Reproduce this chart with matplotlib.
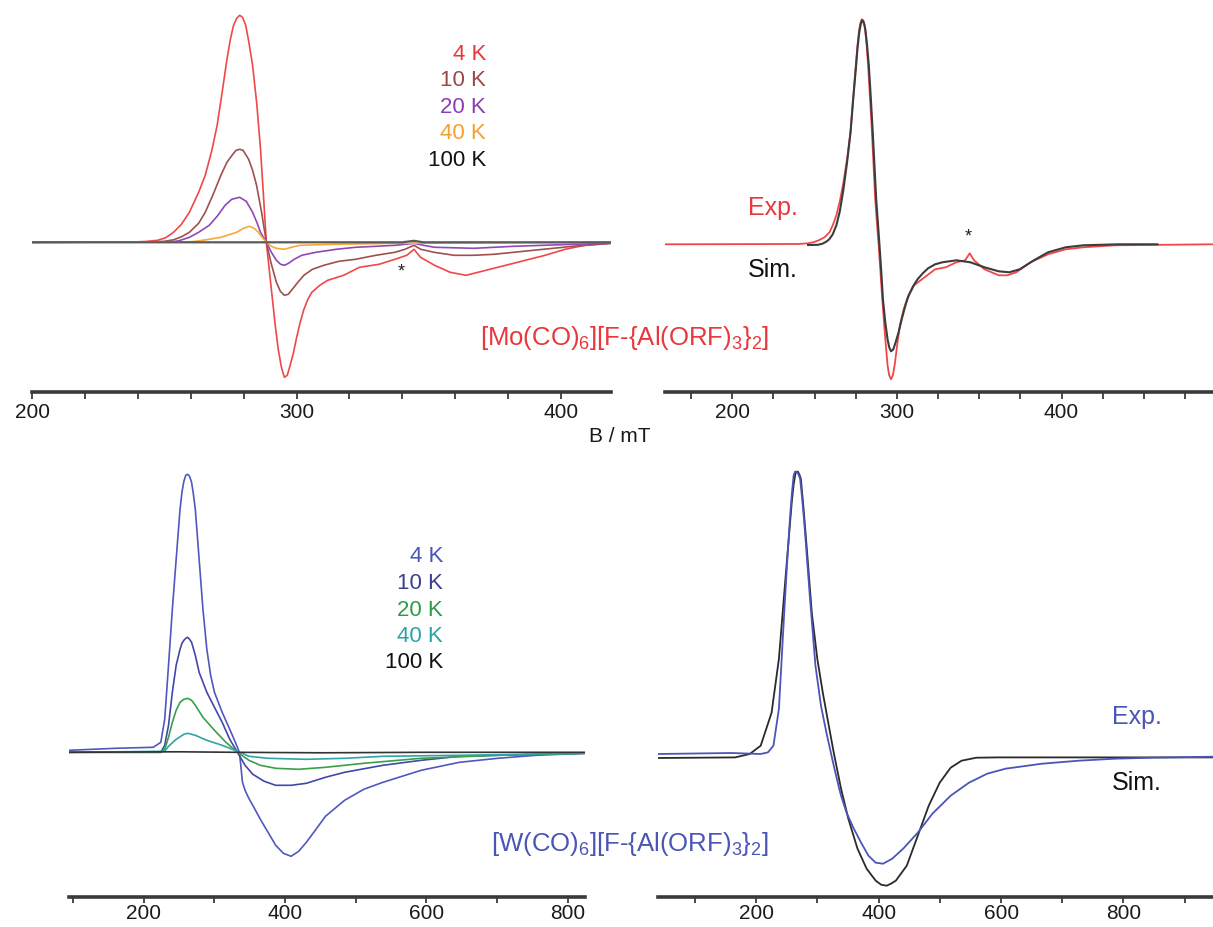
import matplotlib.pyplot as plt
from matplotlib.ticker import MultipleLocator

plt.rcParams['font.family'] = ['Liberation Sans', 'DejaVu Sans']
plt.rcParams['mathtext.fontset'] = 'custom'
plt.rcParams['mathtext.rm'] = 'Liberation Sans'

# ---- [Mo(CO)6]+ : temperature series (B in mT, intensity in a.u.) ----
mo_4k_B = [200, 238, 243, 247.5, 250.5, 253.5, 256.5, 259.5, 263, 265.5, 268, 270, 272, 273.7, 275,
           276.2, 277.4, 278.5, 279.6, 280.8, 282, 283.4, 285, 286.4, 287.5, 288.6, 289.8, 290.9,
           292, 293.1, 294.3, 295.4, 296.5, 297.6, 298.8, 299.9, 301.3, 302.8, 304.3, 305.8,
           308.8, 311.8, 317.8, 323.8, 331.2, 337.2, 341.7, 344.4, 346.9, 352.2, 358.1, 364.1,
           371.6, 379.1, 386.5, 394, 401.5, 409, 418.7]
mo_4k_I = [0, 0.3, 0.8, 2, 4.5, 10, 18, 30, 50, 67, 92, 117, 152, 183, 203,
           217, 224, 227, 225, 217, 200, 177, 138, 93, 47, 0, -30, -57,
           -84, -107, -125, -135, -133, -123, -111, -97, -81, -67, -57, -50,
           -43, -38, -33, -25, -22, -17, -13, -7, -15, -23, -30, -33,
           -28, -23, -18, -13, -7, -3, -1]

mo_10k_B = [200, 245, 250, 253.5, 256.5, 259.5, 263, 265.5, 268.5, 271.4, 273.7, 275.9, 277.2,
            278.5, 279.8, 281.9, 283.4, 284.9, 286.8, 288.6, 290.5, 292.4, 293.9, 295.4, 296.9,
            298.4, 300.5, 302.8, 306, 310.3, 316, 322.3, 330, 337.2, 341, 344.4, 347, 352, 359.6,
            367, 374.6, 389.5, 404.5, 418.7]
mo_10k_I = [0, 0.3, 1, 2.5, 5.5, 10, 19, 30, 48, 67, 80, 88, 92,
            93, 92, 83, 72, 57, 30, 0, -22, -40, -49, -53, -52,
            -47, -40, -33, -27, -23, -19, -17, -13, -10, -7, -3, -7, -10, -13,
            -13, -12, -8, -4, -1]

mo_20k_B = [200, 252, 255.5, 259.5, 263, 267, 270, 273, 275.5, 278.5, 281, 283.4, 285, 286.4,
            288.6, 290.5, 292.4, 294, 295.4, 297, 299.1, 302, 307.3, 315, 322.3, 330, 337.2, 341,
            344.4, 348, 352.2, 367.1, 382.1, 404.5, 418.7]
mo_20k_I = [0, 0.3, 1.5, 5, 10, 17, 26, 37, 43, 45, 41, 30, 20, 10,
            0, -10, -18, -22, -23, -21, -17, -13, -10, -7, -5, -4, -3, -2,
            -1, -3, -5, -6, -4, -2, -1]

mo_40k_B = [200, 258, 262, 267, 271.4, 275, 277.4, 280, 282.2, 284, 285.6, 287, 288.6, 290.5,
            292.4, 295.4, 298, 301.3, 314.8, 337.2, 418.7]
mo_40k_I = [0, 0.3, 1, 3, 5, 8, 10, 14, 16, 14, 10, 5, 0, -4,
            -6, -7, -5, -3, -2, -1, 0]

mo_100k_B = [200, 340, 344.4, 348, 418.7]
mo_100k_I = [0, 0, 1.5, 0, 0]

# ---- [Mo(CO)6]+ : experiment vs simulation ----
mo_exp_B = [159, 240, 246, 249.5, 252.5, 256, 259, 261, 263.2, 265.3, 267.5, 269.7, 271.8, 273.4,
            275, 276.1, 277.1, 277.9, 278.6, 279.5, 280.4, 281.4, 282.5, 283.5, 284.6, 285.7,
            286.8, 287.9, 288.9, 290, 291.1, 292.7, 294.3, 295.3, 296.4, 297.5, 298.6, 300.2,
            301.8, 303.9, 306.1, 310.4, 316.8, 323.2, 329.6, 336.1, 341.4, 344.2, 346.8, 353.2,
            361.8, 367.1, 372.5, 381.1, 391.8, 402.5, 413.2, 432.4, 492]
mo_exp_I = [0, 0.3, 1, 2.2, 4, 7, 12, 19, 29, 43, 62, 85, 112, 145,
            179, 200, 215, 222, 225, 224, 219, 203, 179, 150, 119, 82,
            45, 20, -1, -28, -55, -90, -121, -131, -135, -131, -121, -100,
            -81, -66, -55, -41, -33, -25, -23, -18, -16, -9, -16, -25,
            -31, -31, -28, -18, -10, -5, -3, -1, 0]

mo_sim_B = [246, 252, 254.6, 257, 258.9, 261, 263.2, 265.3, 267.5, 269.7, 271.8, 273.4, 275, 276.1,
            277.1, 278, 278.9, 279.8, 280.8, 281.8, 282.9, 284.1, 285.3, 286.3, 287.4, 288.4,
            289.4, 290.5, 291.5, 292.9, 294.3, 295.3, 296.4, 297.8, 299.2, 301, 302.9, 305,
            307.1, 309.8, 312.5, 315.7, 318.9, 323.2, 327.5, 336.1, 344.6, 353.2, 361.8, 368.2,
            374.6, 383.2, 391.8, 402.5, 413.2, 434.6, 458.2]
mo_sim_I = [-0.7, -0.5, 0.5, 2.5, 5, 10, 19, 33, 55, 82, 112, 145, 175, 197,
            212, 220, 224, 222, 215, 200, 179, 147, 112, 80, 45, 22,
            -1, -28, -55, -78, -95, -103, -107, -105, -98, -88, -75, -62,
            -51, -42, -35, -29, -24, -20, -18, -16, -18, -23, -27, -28,
            -25, -16, -8, -3, -1, 0, 0]

# ---- [W(CO)6]+ : temperature series ----
w_4k_B = [94.6, 160, 213.8, 224.5, 230, 235.4, 240.8, 246.2, 251.7, 254.4, 257.1, 259.8, 262.5,
          265.2, 268, 270.6, 273.3, 278.7, 284.1, 289.6, 295, 300.4, 311.3, 322, 330, 335.6,
          337.5, 340, 343.7, 349, 354.6, 365.3, 376.2, 387, 397.9, 408.8, 419.5, 430.4, 443,
          457.4, 484.5, 511.6, 538.7, 592.8, 646.9, 701.1, 755.2, 824.6]
w_4k_I = [2, 4, 5, 10, 33, 87, 143, 193, 243, 260, 271, 277, 278,
          276, 270, 258, 243, 193, 143, 103, 77, 60, 40, 23, 10, 0,
          -12, -30, -38, -46, -53, -67, -80, -93, -101, -104, -99, -90, -78,
          -64, -48, -37, -30, -18, -10, -6, -3, -1]

w_10k_B = [94.6, 224.5, 230, 235.4, 240.8, 246.2, 251.7, 254.4, 257.1, 259.8, 262.5, 265.2, 268,
           273.3, 278.7, 289.6, 300.4, 311.3, 322, 332.9, 343.7, 354.6, 370.8, 387, 408.8, 430.4,
           457.4, 484.5, 538.7, 592.8, 646.9, 701.1, 824.6]
w_10k_I = [0, 0, 7, 27, 60, 87, 103, 109, 112, 114, 115, 113, 110,
           97, 80, 60, 45, 30, 13, 0, -13, -22, -29, -33, -33, -31,
           -25, -20, -13, -8, -4, -3, -1]

w_20k_B = [94.6, 224.5, 230, 235.4, 240.8, 246.2, 251.7, 257.1, 262.5, 268, 273.3, 284.1, 300.4,
           316.6, 332.9, 349.2, 365.3, 387, 419.5, 457.4, 511.6, 592.8, 701.1, 824.6]
w_20k_I = [0, 0, 3, 15, 30, 42, 50, 53, 54, 52, 47, 35, 22,
           10, 0, -8, -13, -16, -17, -15, -11, -6, -3, -1]

w_40k_B = [94.6, 230, 235.4, 246.2, 257.1, 262.5, 273.3, 289.6, 311.3, 332.9, 349.2, 376.2, 430.4,
           484.5, 538.7, 646.9, 824.6]
w_40k_I = [0, 1, 6, 13, 18, 19, 17, 12, 7, 1, -4, -6, -7,
           -6, -4, -3, -1]

w_100k_B = [94.6, 250, 330, 450, 600, 824.6]
w_100k_I = [0, 0.5, 0, -0.5, 0, 0]

# ---- [W(CO)6]+ : experiment vs simulation ----
w_exp_B = [40, 159.4, 207, 219, 228, 237, 246, 250.5, 255, 258, 261, 263.3, 265.7, 268.5, 271.6,
           275, 278.8, 287.8, 296.7, 305.7, 314.6, 326.6, 335.5, 338.5, 347.5, 359.4, 371.3,
           383.3, 395.2, 407.2, 422.1, 440, 463.9, 487.8, 517.6, 547.5, 577.3, 607.2, 666.9,
           726.6, 786.3, 846, 946]
w_exp_I = [2.7, 3.7, 2.7, 4.3, 11, 48, 148, 195, 238, 262, 281, 285, 285, 283, 278,
           258, 231, 158, 91, 51, 24, -9, -32, -39, -56, -72, -86,
           -99, -106, -107, -102, -92, -76, -57, -39, -26, -17, -12, -7,
           -4, -2, -1, 0]

w_sim_B = [40, 165.4, 189.3, 207.2, 225, 237, 249, 257.9, 261, 263.9, 266, 268.1, 270.5, 272.8, 277,
           281.8, 290.7, 299.7, 308.7, 317.6, 326.6, 338.5, 350.4, 365.4, 380.3, 395.2, 404,
           413.1, 420, 428, 445.9, 463.9, 481.8, 499.7, 517.6, 535.5, 559.4, 595.2, 946]
w_sim_I = [-1.3, -0.7, 2.7, 11, 44, 98, 188, 254, 272, 283, 285, 285, 282, 278, 250,
           214, 144, 98, 64, 34, 4, -32, -62, -92, -112, -124, -128,
           -129, -127, -124, -109, -79, -49, -26, -11, -4, -1, -0.7, -0.7]

temps = ['4 K', '10 K', '20 K', '40 K', '100 K']

W, H = 1213, 928
fig = plt.figure(figsize=(W / 100, H / 100), dpi=100)


def panel(x0, x1, ytop, ybot, xlim, ylim, major, minor, pad=2, length=5):
    ax = fig.add_axes([x0 / W, 1 - ybot / H, (x1 - x0) / W, (ybot - ytop) / H])
    ax.set_xlim(*xlim)
    ax.set_ylim(*ylim)
    for s in ['left', 'right', 'top']:
        ax.spines[s].set_visible(False)
    ax.spines['bottom'].set_linewidth(2.6)
    ax.spines['bottom'].set_color('#3a3a3a')
    ax.set_yticks([])
    ax.xaxis.set_major_locator(MultipleLocator(major))
    ax.xaxis.set_minor_locator(MultipleLocator(minor))
    ax.tick_params(axis='x', which='both', direction='out', length=length, width=1.3,
                   color='#3a3a3a', labelsize=15, labelcolor='#1a1a1a', pad=pad)
    ax.patch.set_alpha(0)
    return ax


def ftext(x, y, s, **kw):
    fig.text(x / W, 1 - y / H, s, **kw)


# top left
ax1 = panel(32, 611, 0, 393, (200, 418.9), (-149.7, 243.3), 100, 20)
mo_cols = ['#f04848', '#a0504e', '#9048b8', '#f8a838', '#5a5a5a']
mo_series = [(mo_4k_B, mo_4k_I), (mo_10k_B, mo_10k_I), (mo_20k_B, mo_20k_I),
             (mo_40k_B, mo_40k_I), (mo_100k_B, mo_100k_I)]
for (b, i), c in zip(mo_series, mo_cols):
    ax1.plot(b, i, color=c, lw=1.2 if c != '#5a5a5a' else 1.6)
ax1.text(339.5, -28.7, '*', ha='center', va='center', fontsize=13, color='#222222')
mo_txt = ['#e8383c', '#9a4848', '#8a3fb0', '#f5a030', '#111111']
for k, (t, c) in enumerate(zip(temps, mo_txt)):
    ftext(486, 54 + 26.6 * k, t, ha='right', va='center', fontsize=16, color=c)

# top right
ax2 = panel(665, 1213, 0, 393, (159.1, 492), (-147.7, 245.3), 100, 25)
ax2.plot(mo_exp_B, mo_exp_I, color='#f04848', lw=1.3)
ax2.plot(mo_sim_B, mo_sim_I, color='#3c3c3c', lw=1.5)
ax2.text(343.1, 8.7, '*', ha='center', va='center', fontsize=13, color='#222222')
ftext(773, 208, 'Exp.', ha='center', va='center', fontsize=18, color='#e8383c')
ftext(773, 270, 'Sim.', ha='center', va='center', fontsize=18, color='#111111')

ftext(769, 338, r'[Mo(CO)$\mathregular{_6}$][F-{Al(ORF)$\mathregular{_3}$}$\mathregular{_2}$]',
      ha='right', va='center', fontsize=18.5, color='#e8383c')
ftext(620, 437, 'B / mT', ha='center', va='center', fontsize=15, color='#1a1a1a')

# bottom left
ax3 = panel(69, 585, 460, 898, (94.6, 824.6), (-144.7, 293.3), 200, 100, pad=0.5, length=4)
w_cols = ['#5058c0', '#4248a8', '#3aa048', '#30a4a8', '#333333']
w_series = [(w_4k_B, w_4k_I), (w_10k_B, w_10k_I), (w_20k_B, w_20k_I),
            (w_40k_B, w_40k_I), (w_100k_B, w_100k_I)]
for (b, i), c in zip(w_series, w_cols):
    ax3.plot(b, i, color=c, lw=1.2)
w_txt = ['#4a55b5', '#3c3f90', '#2e9b48', '#2ba3a6', '#111111']
for k, (t, c) in enumerate(zip(temps, w_txt)):
    ftext(443, 557 + 26.5 * k, t, ha='right', va='center', fontsize=16, color=c)

# bottom right
ax4 = panel(658, 1213, 460, 898, (39.4, 946.3), (-140.3, 297.7), 200, 100, pad=0.5, length=4)
ax4.plot(w_sim_B, w_sim_I, color='#2a2a2a', lw=1.3)
ax4.plot(w_exp_B, w_exp_I, color='#4b55b8', lw=1.3)
ftext(1137, 717, 'Exp.', ha='center', va='center', fontsize=18, color='#4a55b5')
ftext(1137, 783, 'Sim.', ha='center', va='center', fontsize=18, color='#111111')

ftext(769, 844, r'[W(CO)$\mathregular{_6}$][F-{Al(ORF)$\mathregular{_3}$}$\mathregular{_2}$]',
      ha='right', va='center', fontsize=18.5, color='#4a55b5')

fig.savefig('out.png', dpi=100)
